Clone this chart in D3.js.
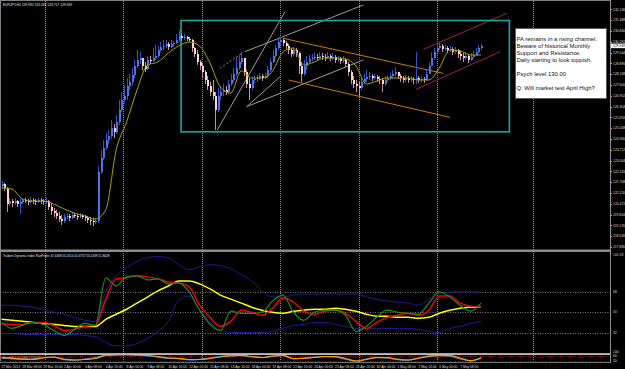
<!DOCTYPE html>
<html>
<head>
<meta charset="utf-8">
<script src="https://cdn.jsdelivr.net/npm/d3@7"></script>
<style>
body { margin: 0; background: #000; }
svg { display: block; font-family: "Liberation Sans", Arial, sans-serif; }
</style>
</head>
<body>
<script>
// EURJPY H4 candles, one bar every 4 hours from 27 Mar 2013 00:00
var firstOpen = 121.54;
var closes = [121.66,121.42,120.46,120.64,120.52,120.64,120.46,120.58,120.70,120.64,
  120.58,120.70,120.64,120.58,120.70,120.64,120.58,120.64,120.28,120.04,
  119.92,119.74,119.56,119.44,119.68,119.74,119.62,119.80,119.74,119.68,
  119.80,119.68,119.62,119.50,119.44,119.38,119.44,122.38,123.22,123.82,
  124.30,124.54,125.02,124.78,125.38,126.10,126.70,126.94,127.54,127.78,
  128.20,128.74,129.10,129.22,128.74,128.56,129.10,129.04,129.22,129.34,
  129.70,129.88,129.94,130.06,129.88,130.06,130.12,130.30,130.54,130.42,
  130.48,130.36,130.30,129.82,129.46,128.98,128.74,128.38,127.90,127.54,
  127.18,126.94,126.10,126.94,127.18,127.30,127.18,127.66,127.90,128.26,
  128.62,128.98,129.22,128.38,127.66,127.42,127.90,127.96,128.02,128.14,
  128.02,128.14,128.50,128.98,129.34,129.82,130.18,130.30,130.12,129.94,
  129.70,129.46,129.70,129.52,128.74,128.26,128.74,128.98,129.16,129.22,
  129.28,129.22,129.34,129.28,129.22,129.34,129.22,129.28,129.10,129.16,
  129.04,129.10,128.86,128.38,127.90,127.66,127.54,127.42,127.78,127.96,
  128.08,128.14,128.02,128.08,127.96,127.90,127.66,127.90,128.02,128.14,
  128.26,128.38,128.14,128.02,127.90,128.02,127.90,127.96,127.90,128.02,
  127.90,127.96,127.90,128.26,128.74,129.22,129.58,129.82,129.94,129.76,
  129.82,129.70,129.76,129.58,129.70,129.46,129.34,129.22,129.34,129.10,
  129.28,129.40,129.58,129.82,129.95];
var highs = [121.84,121.72,121.48,120.82,120.76,120.82,120.70,120.76,120.82,120.82,
  120.76,120.88,120.82,120.76,120.82,120.82,120.76,120.82,120.70,120.52,
  120.22,120.10,119.98,119.80,119.86,119.92,119.86,119.98,119.92,119.86,
  119.92,119.86,119.80,119.74,119.68,119.62,119.62,122.74,123.70,124.30,
  124.72,124.90,125.50,125.26,125.80,126.70,127.18,127.60,128.02,128.26,
  128.62,129.10,129.70,129.58,129.22,128.98,129.34,129.34,129.82,130.00,
  129.94,130.18,130.30,130.30,130.18,130.30,130.24,130.66,130.90,130.72,
  130.66,130.54,130.48,130.36,129.88,129.70,129.10,128.92,128.50,128.14,
  127.78,127.90,127.18,127.42,127.54,127.66,127.54,127.90,128.26,128.62,
  129.28,129.40,129.58,129.22,128.50,128.02,128.08,128.14,128.20,128.32,
  128.26,128.32,128.74,129.22,129.70,130.00,130.36,130.48,130.42,130.24,
  130.06,129.82,129.88,129.82,129.58,128.98,129.10,129.34,129.40,129.46,
  129.52,129.46,129.58,129.52,129.46,129.58,129.46,129.52,129.40,129.34,
  129.28,129.34,129.22,128.98,128.50,128.14,127.90,127.78,128.02,128.26,
  128.50,128.38,128.26,128.26,128.20,128.14,128.02,128.14,128.20,128.32,
  128.50,128.68,128.38,128.26,128.14,128.20,128.14,128.14,128.08,129.58,
  128.14,128.14,128.08,128.50,128.98,129.58,129.82,130.06,130.12,130.06,
  130.00,129.94,129.94,129.88,129.88,129.76,129.64,129.52,129.58,129.46,
  129.52,129.64,129.82,130.00,130.06];
var lows = [121.42,121.24,119.98,120.34,120.28,120.40,120.28,119.86,120.46,120.52,
  120.40,120.52,120.46,120.40,120.52,120.46,120.40,120.46,120.10,119.80,
  119.68,119.56,119.38,119.20,119.32,119.56,119.44,119.56,119.62,119.50,
  119.62,119.56,119.44,119.32,119.20,119.14,119.26,119.32,122.26,123.10,
  123.70,124.06,124.36,124.42,124.66,125.20,125.98,126.46,126.70,127.30,
  127.54,128.02,128.62,128.86,128.50,128.38,128.50,128.86,128.98,129.10,
  129.28,129.58,129.70,129.82,129.70,129.82,129.94,130.06,130.18,130.24,
  130.30,130.24,130.18,129.58,129.28,128.80,128.50,128.08,127.66,127.30,
  126.94,126.70,124.90,125.98,126.70,126.94,127.00,127.06,127.54,127.78,
  128.14,128.50,128.86,128.14,127.42,126.70,127.30,127.72,127.78,127.90,
  127.84,127.96,128.02,128.38,128.92,129.22,129.70,130.00,129.94,129.76,
  129.46,129.28,129.34,129.28,128.26,127.78,128.14,128.50,128.92,129.04,
  129.10,129.04,129.10,129.10,129.04,129.16,129.04,129.10,128.92,128.98,
  128.86,128.92,128.68,128.14,127.66,127.42,127.18,127.00,127.30,127.66,
  127.78,127.90,127.84,127.90,127.78,127.66,127.18,127.54,127.78,127.90,
  128.02,128.14,127.96,127.78,127.72,127.78,127.72,127.78,127.66,127.66,
  127.72,127.78,127.72,127.84,128.26,128.80,129.10,129.52,129.70,129.58,
  129.64,129.52,129.58,129.40,129.46,129.22,129.10,128.98,129.10,128.92,
  129.04,129.22,129.34,129.52,129.70];

// indicator lines, one value every 4 bars
var sampleStep = 4;
var maLine = [121.42,121.36,120.76,120.64,120.64,120.46,120.16,119.92,119.74,119.56,
  120.10,123.70,125.38,127.30,128.80,128.98,129.52,129.94,130.18,129.94,
  128.92,127.48,127.12,128.44,128.02,128.02,128.44,129.58,129.82,128.80,
  128.98,129.22,129.22,129.16,128.74,127.66,127.84,128.02,128.02,128.02,
  127.90,127.90,128.62,129.70,129.64,129.40,129.40];
var tdiPrice = [41.2,36.0,38.6,41.2,39.5,34.2,29.8,35.1,40.3,38.6,
  79.9,72.9,80.7,81.6,78.1,79.0,74.6,75.5,67.6,51.8,
  39.5,34.2,50.9,49.1,49.1,50.0,59.7,64.9,50.0,43.0,
  50.0,51.8,51.8,47.4,33.3,37.7,45.6,51.8,50.0,49.1,
  48.3,57.9,67.6,63.2,56.1,50.9,57.9];
var tdiSignal = [40.3,39.5,39.5,41.2,41.2,38.6,34.2,35.1,37.7,38.6,
  61.4,79.0,79.9,81.6,80.7,79.0,76.3,75.5,72.0,56.1,
  45.6,37.7,42.1,51.8,50.0,47.4,53.5,62.3,58.8,50.9,
  48.3,50.9,51.8,49.1,42.1,36.0,41.2,45.6,47.4,49.1,
  47.4,51.8,64.1,64.1,57.9,55.3,54.4];
var tdiBase = [43.9,43.0,42.1,41.2,40.3,39.5,38.6,37.7,37.7,37.7,
  43.9,48.3,52.6,57.9,63.2,68.5,72.8,77.2,77.2,74.6,
  70.2,64.9,61.4,57.9,54.4,51.8,50.0,49.1,50.9,51.8,
  52.6,52.6,53.5,52.6,50.9,48.3,46.5,46.5,45.6,45.6,
  44.7,45.6,49.1,51.8,53.5,54.4,54.4];
var tdiUpper = [56.1,56.1,55.3,54.4,52.6,50.0,48.3,45.6,43.0,42.1,
  67.6,81.6,88.6,93.9,97.4,98.3,97.4,91.3,86.9,89.5,
  91.3,90.4,87.8,82.5,77.2,68.4,63.2,63.2,64.9,65.8,
  65.8,65.8,65.8,65.8,65.8,63.2,61.4,59.7,58.8,57.9,
  56.1,61.4,66.7,67.6,67.6,67.6,67.6];
var tdiLower = [31.6,31.6,30.7,30.7,30.7,30.7,30.7,30.7,29.8,28.9,
  23.7,21.0,21.0,22.8,27.2,33.3,42.1,60.5,64.1,52.6,
  41.2,34.2,32.4,32.4,32.4,32.4,33.3,36.0,38.6,39.5,
  41.2,41.2,39.5,37.7,36.0,36.0,36.0,36.0,36.0,36.0,
  35.1,33.3,32.4,36.0,37.7,40.3,42.1];
var oscMain = [59.6,53.6,41.6,38,56,68,41.6,32,38,50,
  86,94.4,95.6,94.4,86,74,56,52.4,38,38,
  50,68,80,88.4,74,62,74,88.4,50,52.4,
  62,71.6,71.6,50,20,38,59.6,59.6,41.6,32,
  50,76.4,83.6,83.6,56,23.6,52.4];
var oscSignal = [57,48,38,40,62,64,36,30,42,60,
  92,96,95,90,80,66,52,48,34,40,
  58,76,86,86,68,60,82,86,44,56,
  66,74,68,42,18,44,64,56,36,30,
  58,82,86,78,46,22,60];

// tick labels
var priceTicks = [117.880,118.528,119.176,119.824,120.472,121.120,121.768,122.416,
  123.064,123.712,124.360,125.008,125.656,126.304,126.952,127.600,128.248,128.896,
  129.544,130.192,130.840,131.488,132.136];
var tdiLevels = [68, 50, 32];
var tdiTop = "101.53";
var oscLevels = [80, 20];
var dateLabels = ["27 Mar 2013","28 Mar 08:00","29 Mar 16:00","2 Apr 00:00","3 Apr 08:00",
  "4 Apr 16:00","8 Apr 00:00","9 Apr 08:00","10 Apr 16:00","12 Apr 00:00","15 Apr 08:00",
  "16 Apr 16:00","18 Apr 00:00","19 Apr 08:00","22 Apr 16:00","24 Apr 00:00","25 Apr 08:00",
  "26 Apr 16:00","30 Apr 00:00","1 May 08:00","2 May 16:00","6 May 00:00","7 May 08:00"];
var dateStep = 8;
var gridBars = [16.7, 46.7, 76.8, 106.9, 137, 167.1, 204];
var lastPrice = 129.949;

// drawn objects: [bar, price] end points
var cyanBox = [[68.9, 131.47], [194.9, 124.79]];
var grayLines = [
  [[82.8, 124.90], [108.8, 132.00]],
  [[94.1, 126.30], [106.9, 128.10]],
  [[94.1, 126.30], [138.8, 129.10]],
  [[93.4, 129.60], [138.8, 132.40]]
];
var grayDotted = [[[83.8, 128.60], [92.2, 129.50]]];
var orangeLines = [
  [[108.1, 130.40], [169.5, 128.30]],
  [[110.1, 127.90], [172.1, 125.66]]
];
var channelLines = [
  [[161.9, 129.74], [193.9, 131.90]],
  [[159.1, 127.34], [191.3, 129.60]]
];
var noteLines = ["PA remains in a rising channel.", "Beware of historical Monthly",
  "Support and Resistance.", "Daily starting to look toppish.", "",
  "Psych level 130.00", "", "Q: Will market test April High?"];

var W = 625, H = 369, axisX = 610;
var svg = d3.select('body').append('svg').attr('width', W).attr('height', H)
  .style('background', '#000');

var x = d3.scaleLinear().domain([0, 184]).range([1.5, 481]);
var yP = d3.scaleLinear().domain([117.82, 132.70]).range([248, 0]);
var yT = d3.scaleLinear().domain([32, 68]).range([333, 291.5]);
var yO = d3.scaleLinear().domain([20, 80]).range([361, 356]);

var defs = svg.append('defs');
function clip(id, y0, h) {
  defs.append('clipPath').attr('id', id).append('rect')
    .attr('x', 0).attr('y', y0).attr('width', axisX).attr('height', h);
}
clip('cp', 0, 249.5);
clip('ct', 252, 101.5);
clip('co', 355, 7.5);

// vertical grid
svg.append('g').selectAll('line').data(gridBars).enter().append('line')
  .attr('x1', function(d){ return Math.round(x(d)) + 0.5; })
  .attr('x2', function(d){ return Math.round(x(d)) + 0.5; })
  .attr('y1', 1).attr('y2', 362)
  .attr('stroke', '#8a8a8a').attr('stroke-dasharray', '1,1')
  .attr('shape-rendering', 'crispEdges');

// borders and panel separators
svg.append('line').attr('x1', 0).attr('x2', axisX).attr('y1', 0.5).attr('y2', 0.5).attr('stroke', '#808080');
svg.append('line').attr('x1', 0.5).attr('x2', 0.5).attr('y1', 0).attr('y2', 363).attr('stroke', '#808080');
svg.append('rect').attr('x', 0).attr('y', 249.5).attr('width', axisX).attr('height', 2.5).attr('fill', '#8c8c8c');
svg.append('rect').attr('x', 0).attr('y', 353.3).attr('width', axisX).attr('height', 1.5).attr('fill', '#e8e8e8');
svg.append('line').attr('x1', 0).attr('x2', axisX).attr('y1', 362.5).attr('y2', 362.5).attr('stroke', '#707070');
svg.append('line').attr('x1', axisX + 0.5).attr('x2', axisX + 0.5).attr('y1', 0).attr('y2', 363).attr('stroke', '#909090');

// price panel
var pricePanel = svg.append('g').attr('clip-path', 'url(#cp)');

function seg(g, lines, color, dash, width) {
  g.selectAll(null).data(lines).enter().append('line')
    .attr('x1', function(d){ return x(d[0][0]); })
    .attr('y1', function(d){ return yP(d[0][1]); })
    .attr('x2', function(d){ return x(d[1][0]); })
    .attr('y2', function(d){ return yP(d[1][1]); })
    .attr('stroke', color).attr('stroke-width', width || 1)
    .attr('stroke-dasharray', dash || null);
}
seg(pricePanel, grayLines, '#9c9c9c');
seg(pricePanel, grayDotted, '#8c8c8c', '2,2');
seg(pricePanel, orangeLines, '#c97a0c');
seg(pricePanel, channelLines, '#a3205f');

pricePanel.append('rect')
  .attr('x', x(cyanBox[0][0])).attr('y', yP(cyanBox[0][1]))
  .attr('width', x(cyanBox[1][0]) - x(cyanBox[0][0]))
  .attr('height', yP(cyanBox[1][1]) - yP(cyanBox[0][1]))
  .attr('fill', 'none').attr('stroke', '#1ba6a6').attr('stroke-width', 1.6);

var bars = closes.map(function(c, i){
  var o = i ? closes[i - 1] : firstOpen;
  return { i: i, o: o, c: c, h: Math.max(highs[i], o, c), l: Math.min(lows[i], o, c) };
});
var candle = pricePanel.append('g').attr('shape-rendering', 'crispEdges')
  .selectAll('g').data(bars).enter().append('g');
candle.append('line')
  .attr('x1', function(d){ return Math.round(x(d.i)) + 0.5; })
  .attr('x2', function(d){ return Math.round(x(d.i)) + 0.5; })
  .attr('y1', function(d){ return yP(d.h); })
  .attr('y2', function(d){ return yP(d.l); })
  .attr('stroke', function(d){ return d.c >= d.o ? '#2f55c8' : '#c8909c'; });
candle.append('rect')
  .attr('x', function(d){ return Math.round(x(d.i)) - 0.5; })
  .attr('width', 2)
  .attr('y', function(d){ return yP(Math.max(d.o, d.c)); })
  .attr('height', function(d){ return Math.max(1, Math.abs(yP(d.o) - yP(d.c))); })
  .attr('fill', function(d){ return d.c >= d.o ? '#4a74ee' : '#ffd3da'; });

var sampleX = function(d, k){ return x(k * sampleStep); };
var line = function(scale){
  return d3.line().x(sampleX).y(function(d){ return scale(d); }).curve(d3.curveMonotoneX);
};
pricePanel.append('path').attr('d', line(yP)(maLine))
  .attr('fill', 'none').attr('stroke', '#a3a300').attr('stroke-width', 1);

// note box
var note = svg.append('g');
note.append('rect').attr('x', 515.5).attr('y', 28.5).attr('width', 91).attr('height', 70)
  .attr('fill', '#ffffff').attr('stroke', '#5a5a5a');
note.selectAll('text').data(noteLines).enter().append('text')
  .attr('x', 516.5).attr('y', function(d, k){ return 41.3 + k * 6.95; })
  .attr('font-size', 5.9).attr('fill', '#111').text(function(d){ return d; });

// titles
svg.append('text').attr('x', 3).attr('y', 5.5).attr('font-size', 3.3).attr('fill', '#e0e0e0')
  .text('EURJPY,H4  129.992 130.163 129.717 129.949');
svg.append('text').attr('x', 3).attr('y', 257).attr('font-size', 3.1).attr('fill', '#e0e0e0')
  .text('Traders Dynamic Index RasFrider 47.4468 55.1614 41.6757 53.2439 51.8428');
svg.append('text').attr('x', 3).attr('y', 358.6).attr('font-size', 3.1).attr('fill', '#e0e0e0')
  .text('Stoch(8,3,3) 0.6812 0.6103');

// price axis
var axisG = svg.append('g').attr('font-size', 3.4).attr('fill', '#dcdcdc');
axisG.selectAll('line').data(priceTicks).enter().append('line')
  .attr('x1', axisX).attr('x2', axisX + 2)
  .attr('y1', function(d){ return Math.round(yP(d)) + 0.5; })
  .attr('y2', function(d){ return Math.round(yP(d)) + 0.5; })
  .attr('stroke', '#a0a0a0');
axisG.selectAll('text').data(priceTicks).enter().append('text')
  .attr('x', axisX + 3).attr('y', function(d){ return yP(d) + 1.2; })
  .text(function(d){ return d.toFixed(3); });
axisG.append('rect').attr('x', axisX + 1).attr('y', yP(lastPrice) - 2.3)
  .attr('width', 15).attr('height', 4.6).attr('fill', '#ffffff');
axisG.append('text').attr('x', axisX + 3).attr('y', yP(lastPrice) + 1.2)
  .attr('fill', '#000').text(lastPrice.toFixed(3));

// TDI panel
var tdi = svg.append('g').attr('clip-path', 'url(#ct)');
tdi.selectAll('line').data(tdiLevels).enter().append('line')
  .attr('x1', 0).attr('x2', axisX)
  .attr('y1', function(d){ return Math.round(yT(d)) + 0.5; })
  .attr('y2', function(d){ return Math.round(yT(d)) + 0.5; })
  .attr('stroke', '#7a7a7a').attr('stroke-dasharray', '1,1.5');
[[tdiUpper, '#1c1c9c', 1], [tdiLower, '#1c1c9c', 1], [tdiBase, '#ffff00', 1.5],
 [tdiSignal, '#ff0000', 1.4], [tdiPrice, '#1e8c1e', 1.2]].forEach(function(s){
  tdi.append('path').attr('d', line(yT)(s[0]))
    .attr('fill', 'none').attr('stroke', s[1]).attr('stroke-width', s[2]);
});
var tdiAxis = svg.append('g').attr('font-size', 3.4).attr('fill', '#dcdcdc');
tdiAxis.selectAll('text').data(tdiLevels).enter().append('text')
  .attr('x', axisX + 3).attr('y', function(d){ return yT(d) + 1.2; })
  .text(function(d){ return d; });
tdiAxis.append('text').attr('x', axisX + 3).attr('y', 255.5).text(tdiTop);

// oscillator panel
var osc = svg.append('g').attr('clip-path', 'url(#co)');
osc.selectAll('line').data(oscLevels).enter().append('line')
  .attr('x1', 0).attr('x2', axisX)
  .attr('y1', function(d){ return Math.round(yO(d)) + 0.5; })
  .attr('y2', function(d){ return Math.round(yO(d)) + 0.5; })
  .attr('stroke', '#c00000').attr('stroke-dasharray', '1,1.5');
osc.append('path').attr('d', line(yO)(oscSignal))
  .attr('fill', 'none').attr('stroke', '#1e90ff').attr('stroke-width', 1.2);
osc.append('path').attr('d', line(yO)(oscMain))
  .attr('fill', 'none').attr('stroke', '#ff9a00').attr('stroke-width', 1.2);
var oscAxis = svg.append('g').attr('font-size', 3.4).attr('fill', '#dcdcdc');
oscAxis.selectAll('text').data(oscLevels).enter().append('text')
  .attr('x', axisX + 3).attr('y', function(d){ return yO(d) + 1.2; })
  .text(function(d){ return d; });
oscAxis.append('text').attr('x', axisX + 3).attr('y', 352.5).text('100');

// time axis
svg.append('g').attr('font-size', 3.3).attr('fill', '#dcdcdc')
  .selectAll('text').data(dateLabels).enter().append('text')
  .attr('x', function(d, k){ return x(k * dateStep); })
  .attr('y', 367.6)
  .text(function(d){ return d; });
</script>
</body>
</html>
